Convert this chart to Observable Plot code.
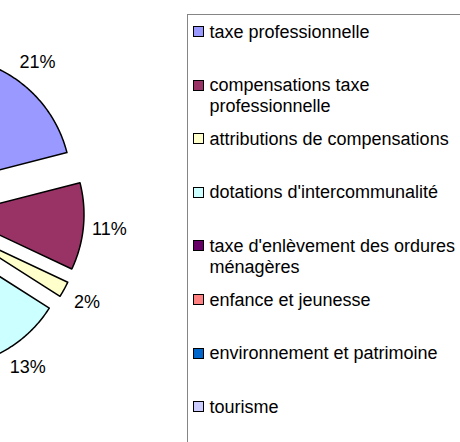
<!DOCTYPE html>
<html>
<head>
<meta charset="utf-8">
<script src="https://cdn.jsdelivr.net/npm/d3@7"></script>
<script src="https://cdn.jsdelivr.net/npm/@observablehq/plot@0.6"></script>
<style>
  html, body { margin: 0; padding: 0; background: #fff; }
  #wrap { position: relative; width: 460px; height: 442px; overflow: hidden; font-family: "Liberation Sans", Arial, sans-serif; }
  #chart { position: absolute; left: 0; top: 0; }
  #legend { position: absolute; left: 187px; top: 14px; width: 320px; height: 440px; border: 1px solid #858585; box-sizing: border-box; }
  .item { position: absolute; left: 0; }
  .sw { position: absolute; left: 5px; top: 4.5px; width: 11px; height: 11px; border: 1px solid #000; box-sizing: border-box; }
  .tx { position: absolute; left: 21.5px; top: 0; width: 258px; font-size: 18px; line-height: 21px; color: #000; white-space: normal; }
</style>
</head>
<body>
<div id="wrap">
  <div id="chart"></div>
  <div id="legend"></div>
</div>
<script>
// Data
const categories = [
  "taxe professionnelle",
  "compensations taxe professionnelle",
  "attributions de compensations",
  "dotations d'intercommunalité",
  "taxe d'enlèvement des ordures ménagères",
  "enfance et jeunesse",
  "environnement et patrimoine",
  "tourisme"
];
const values = [21, 11, 2, 13, 40, 8, 3, 2];
const colors = ["#9999FF", "#993366", "#FFFFCC", "#CCFFFF", "#660066", "#FF8080", "#0066CC", "#CCCCFF"];

// Build slice geometry in unit coordinates (radius 1, y up)
const explode = 0.266;
const labelR = 1.47;
const arcs = d3.pie().sort(null).value(d => d)(values);
const polyPts = [];
const labelPts = [];
arcs.forEach((a, i) => {
  const mid = (a.startAngle + a.endAngle) / 2;
  const cx = explode * Math.sin(mid), cy = explode * Math.cos(mid);
  const cat = categories[i];
  polyPts.push({cat, x: cx, y: cy});
  const n = Math.max(4, Math.ceil((a.endAngle - a.startAngle) / 0.01));
  for (let k = 0; k <= n; k++) {
    const t = a.startAngle + (a.endAngle - a.startAngle) * k / n;
    polyPts.push({cat, x: cx + Math.sin(t), y: cy + Math.cos(t)});
  }
  labelPts.push({cat, x: labelR * Math.sin(mid), y: labelR * Math.cos(mid), label: Math.round(values[i]) + "%"});
});

const W = 187, H = 442, PX = 128, CX = -78.4, CY = 210.8;
const xDomain = [-CX / PX, (W - CX) / PX];
// only labels that fall inside the visible frame (the reference is a crop of the pie)
const visibleLabels = labelPts.filter(d => d.x > xDomain[0] + 0.1);
const chart = Plot.plot({
  width: W,
  height: H,
  margin: 0,
  x: {domain: xDomain, axis: null},
  y: {domain: [-(H - CY) / PX, CY / PX], axis: null},
  color: {domain: categories, range: colors},
  marks: [
    Plot.line(polyPts, {x: "x", y: "y", z: "cat", fill: "cat", stroke: "#000", strokeWidth: 1.5, curve: "linear-closed"}),
    Plot.text(visibleLabels, {x: "x", y: "y", text: "label", fontSize: 18, fill: "#000", fontFamily: "Liberation Sans, Arial, sans-serif"})
  ]
});
document.getElementById("chart").appendChild(chart);

// Legend
const legend = document.getElementById("legend");
categories.forEach((c, i) => {
  const it = document.createElement("div");
  it.className = "item";
  it.style.top = (6.5 + i * 53.6) + "px";
  const sw = document.createElement("div");
  sw.className = "sw";
  sw.style.background = colors[i];
  const tx = document.createElement("div");
  tx.className = "tx";
  tx.textContent = c;
  it.appendChild(sw);
  it.appendChild(tx);
  legend.appendChild(it);
});
</script>
</body>
</html>
